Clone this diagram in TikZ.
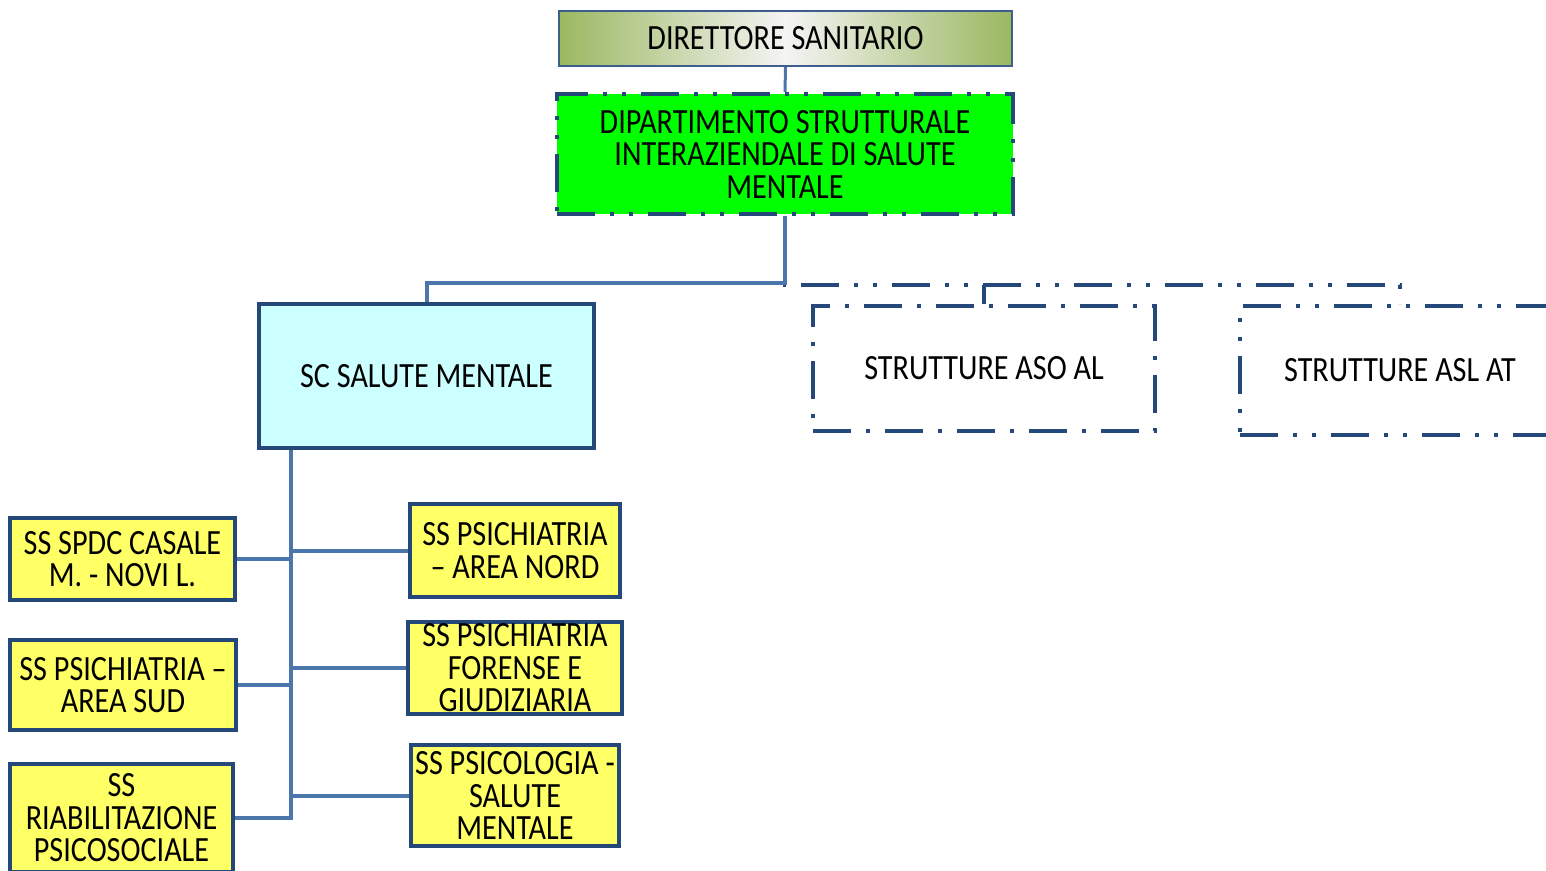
\documentclass[tikz,border=0pt]{standalone}
\usepackage{fontspec}
\setmainfont{Carlito}[FakeStretch=0.85]
\usetikzlibrary{calc}

\definecolor{dblue}{RGB}{37,72,122}
\definecolor{mblue}{RGB}{74,118,172}
\definecolor{frameblue}{RGB}{62,94,142}
\definecolor{olive}{RGB}{155,184,96}
\definecolor{pale}{RGB}{244,244,244}
\definecolor{brightgreen}{RGB}{0,255,0}
\definecolor{paleblue}{RGB}{204,255,255}
\definecolor{yel}{RGB}{255,255,102}

\newcommand\boxfont{\fontsize{35.5}{32.5}\selectfont}

\tikzset{
  box/.style={draw=dblue, line width=4pt, inner sep=0pt, align=center,
    font=\boxfont, text=black},
  ybox/.style={box, fill=yel},
  conn/.style={draw=mblue, line width=4pt},
  dashdotdot/.style={dash pattern=on 38pt off 15pt on 4pt off 15pt on 4pt off 15pt},
  dashdot/.style={dash pattern=on 38pt off 15pt on 4pt off 15pt},
  dconn/.style={draw=dblue, line width=4pt, dashdotdot, dash phase=6pt},
}

\begin{document}
\begin{tikzpicture}[x=1pt, y=-1pt]
  \useasboundingbox (0,0) rectangle (1546,870);
  \clip (0,0) rectangle (1546,870);

  % top of the hierarchy
  \node[box, line width=2pt, draw=frameblue, left color=olive, right color=olive,
        middle color=pale, minimum width=453pt, minimum height=55pt]
        (dir) at (785.5,38.5) {DIRETTORE SANITARIO};
  \node[box, fill=brightgreen, dashdotdot, minimum width=456pt, minimum height=120pt]
        (dip) at (785,154) {DIPARTIMENTO STRUTTURALE\\INTERAZIENDALE DI SALUTE\\MENTALE};

  % second level
  \node[box, fill=paleblue, minimum width=335pt, minimum height=144pt]
        (sc) at (426.5,376) {SC SALUTE MENTALE};
  \node[box, dashdot, minimum width=342pt, minimum height=125pt]
        (aso) at (984,368.5) {STRUTTURE ASO AL};
  \node[box, dashdotdot, minimum width=320pt, minimum height=129pt]
        (asl) at (1400,370.5) {STRUTTURE ASL AT};

  % simple structures, left column
  \node[ybox, minimum width=225pt, minimum height=82pt]
        (spdc) at (122.5,559) {SS SPDC CASALE\\M. - NOVI L.};
  \node[ybox, minimum width=226pt, minimum height=90pt]
        (sud) at (123,685) {SS PSICHIATRIA –\\AREA SUD};
  \node[ybox, minimum width=223pt, minimum height=108pt]
        (riab) at (121.5,818) {SS\\RIABILITAZIONE\\PSICOSOCIALE};

  % simple structures, right column
  \node[ybox, minimum width=210pt, minimum height=93pt]
        (nord) at (515,550.5) {SS PSICHIATRIA\\– AREA NORD};
  \node[ybox, minimum width=214pt, minimum height=92pt]
        (fore) at (515,668) {SS PSICHIATRIA\\FORENSE E\\GIUDIZIARIA};
  \node[ybox, minimum width=208pt, minimum height=101pt]
        (psico) at (515,795.5) {SS PSICOLOGIA -\\SALUTE\\MENTALE};

  % connectors
  \draw[conn, line width=3pt] (dir.south) -- (dip.north);
  \draw[dconn] (dip.south) -- ++(0,69) -| (asl.north);
  \draw[dconn] (dip.south) -- ++(0,69) -| (aso.north);
  \draw[conn] (dip.south) -- ++(0,67) -| (sc.north);

  \coordinate (trunk) at ([xshift=34pt]sc.south west);
  \draw[conn] (trunk) |- (spdc.east);
  \draw[conn] (trunk) |- (sud.east);
  \draw[conn] (trunk) |- (riab.east);
  \draw[conn] (trunk) |- (nord.west);
  \draw[conn] (trunk) |- (fore.west);
  \draw[conn] (trunk) |- (psico.west);
\end{tikzpicture}
\end{document}
